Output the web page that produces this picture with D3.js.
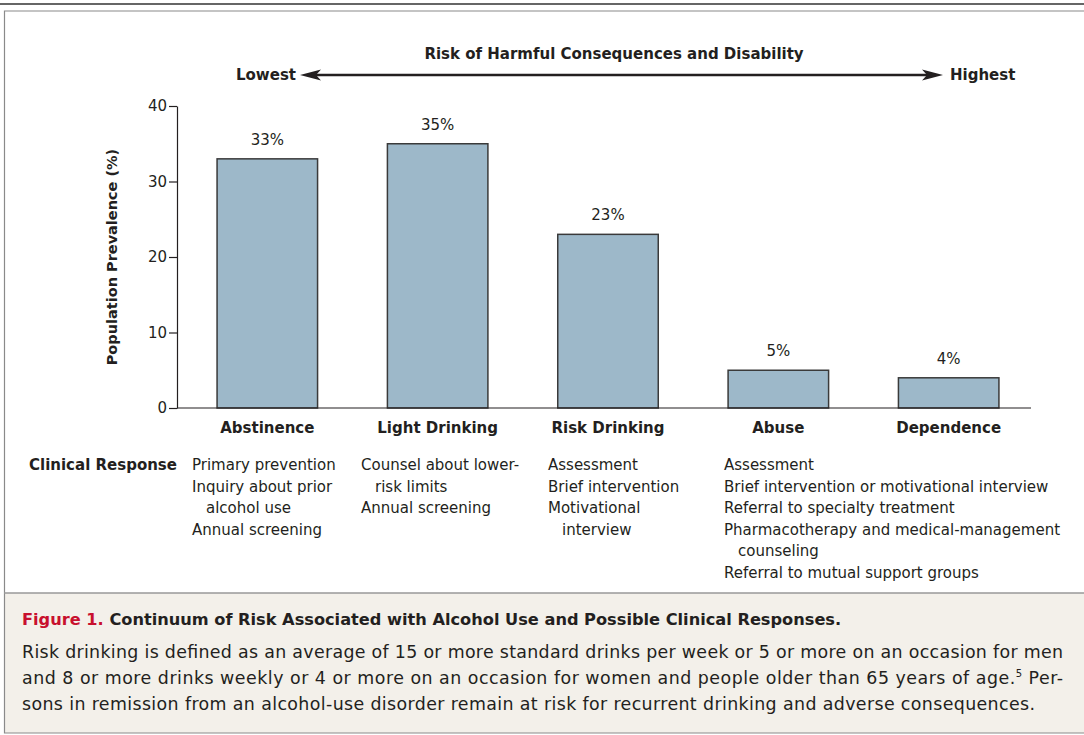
<!DOCTYPE html>
<html>
<head>
<meta charset="utf-8">
<script src="https://cdn.jsdelivr.net/npm/d3@7"></script>
<style>
  body { margin: 0; background: #fff; }
  text { font-family: "DejaVu Sans", "Open Sans", sans-serif; fill: #231f20; }
  .bold { font-weight: 700; }
</style>
</head>
<body>
<div id="chart"></div>
<script>
// ---- data ----
var categories = ["Abstinence", "Light Drinking", "Risk Drinking", "Abuse", "Dependence"];
var prevalence = [33, 35, 23, 5, 4];
var yTicks = [0, 10, 20, 30, 40];

// one list per column; each item = [first line, continuation lines...]
var responses = [
    [["Primary prevention"], ["Inquiry about prior", "alcohol use"], ["Annual screening"]],
    [["Counsel about lower-", "risk limits"], ["Annual screening"]],
    [["Assessment"], ["Brief intervention"], ["Motivational", "interview"]],
    [["Assessment"], ["Brief intervention or motivational interview"], ["Referral to specialty treatment"],
     ["Pharmacotherapy and medical-management", "counseling"], ["Referral to mutual support groups"]]
];

var captionLabel = "Figure 1.";
var captionTitle = "Continuum of Risk Associated with Alcohol Use and Possible Clinical Responses.";
var captionLines = [
    "Risk drinking is defined as an average of 15 or more standard drinks per week or 5 or more on an occasion for men",
    "and 8 or more drinks weekly or 4 or more on an occasion for women and people older than 65 years of age.|5| Per-",
    "sons in remission from an alcohol-use disorder remain at risk for recurrent drinking and adverse consequences."
];

// ---- layout ----
var svgWidth = 1084, svgHeight = 735;
var plot = {left: 177, right: 1031, top: 106, bottom: 408};
var responseX = [192, 361, 548, 724];

var svg = d3.select("#chart").append("svg")
    .attr("width", svgWidth)
    .attr("height", svgHeight);

// frame
svg.append("line")
    .attr("x1", 0).attr("x2", svgWidth)
    .attr("y1", 4).attr("y2", 4)
    .attr("stroke", "#666").attr("stroke-width", 2.2);

svg.append("rect")
    .attr("x", 4).attr("y", 593)
    .attr("width", svgWidth).attr("height", 140)
    .attr("fill", "#f3f0ea");

svg.append("path")
    .attr("d", `M${svgWidth + 5},11 H4.5 V733 H${svgWidth + 5}`)
    .attr("fill", "none").attr("stroke", "#8a8a8a").attr("stroke-width", 1.2);

svg.append("line")
    .attr("x1", 4).attr("x2", svgWidth)
    .attr("y1", 593).attr("y2", 593)
    .attr("stroke", "#999").attr("stroke-width", 1.5);

// scales
var x = d3.scaleBand()
    .domain(categories)
    .range([183, 1033])
    .paddingInner(0.41)
    .paddingOuter(0.2);

var y = d3.scaleLinear()
    .domain([0, 40])
    .range([plot.bottom, plot.top]);

// y axis
var yAxis = svg.append("g")
    .attr("transform", `translate(${plot.left},0)`)
    .call(d3.axisLeft(y).tickValues(yTicks).tickSize(8).tickPadding(2).tickSizeOuter(0));

yAxis.select(".domain").attr("stroke", "#231f20").attr("stroke-width", 1.2);
yAxis.selectAll(".tick line").attr("stroke", "#231f20").attr("stroke-width", 1.2);
yAxis.selectAll(".tick text")
    .attr("font-family", null)
    .style("font-size", "15px")
    .attr("fill", "#231f20");

svg.append("text")
    .attr("class", "bold")
    .attr("transform", `translate(117,${(plot.top + plot.bottom) / 2}) rotate(-90)`)
    .attr("text-anchor", "middle")
    .style("font-size", "14.5px")
    .text("Population Prevalence (%)");

// bars
var rows = categories.map((c, i) => ({cat: c, v: prevalence[i]}));

svg.append("g").selectAll("rect")
    .data(rows)
    .enter().append("rect")
    .attr("x", d => x(d.cat))
    .attr("y", d => y(d.v))
    .attr("width", x.bandwidth())
    .attr("height", d => y(0) - y(d.v))
    .attr("fill", "#9db8c9")
    .attr("stroke", "#3a3a3a")
    .attr("stroke-width", 1.5);

svg.append("g").selectAll("text")
    .data(rows)
    .enter().append("text")
    .attr("x", d => x(d.cat) + x.bandwidth() / 2)
    .attr("y", d => y(d.v) - 14)
    .attr("text-anchor", "middle")
    .style("font-size", "15px")
    .text(d => d.v + "%");

// x axis line
svg.append("line")
    .attr("x1", plot.left).attr("x2", plot.right)
    .attr("y1", y(0)).attr("y2", y(0))
    .attr("stroke", "#231f20").attr("stroke-width", 1.2);

svg.append("g").selectAll("text")
    .data(categories)
    .enter().append("text")
    .attr("class", "bold")
    .attr("x", d => x(d) + x.bandwidth() / 2)
    .attr("y", 433)
    .attr("text-anchor", "middle")
    .style("font-size", "15px")
    .text(d => d);

// risk arrow
svg.append("text")
    .attr("class", "bold")
    .attr("x", 614).attr("y", 59)
    .attr("text-anchor", "middle")
    .style("font-size", "15px")
    .text("Risk of Harmful Consequences and Disability");

svg.append("text")
    .attr("class", "bold")
    .attr("x", 296).attr("y", 80)
    .attr("text-anchor", "end")
    .style("font-size", "15px")
    .text("Lowest");

svg.append("text")
    .attr("class", "bold")
    .attr("x", 950).attr("y", 80)
    .style("font-size", "15px")
    .text("Highest");

svg.append("line")
    .attr("x1", 314).attr("x2", 929)
    .attr("y1", 75).attr("y2", 75)
    .attr("stroke", "#231f20").attr("stroke-width", 2.6);

svg.append("path")
    .attr("d", "M300,75 L321,69.5 L316,75 L321,80.5 Z M943,75 L922,69.5 L927,75 L922,80.5 Z")
    .attr("fill", "#231f20");

// clinical response
svg.append("text")
    .attr("class", "bold")
    .attr("x", 29).attr("y", 470)
    .style("font-size", "15px")
    .text("Clinical Response");

var lineH = 21.6;
responses.forEach((col, ci) => {
    var row = 0;
    col.forEach(item => {
        item.forEach((t, li) => {
            svg.append("text")
                .attr("x", responseX[ci] + (li > 0 ? 14 : 0))
                .attr("y", 470 + row * lineH)
                .style("font-size", "15px")
                .text(t);
            row++;
        });
    });
});

// caption
var cap = svg.append("text")
    .attr("x", 22).attr("y", 625)
    .style("font-size", "16.2px")
    .attr("class", "bold");
cap.append("tspan").style("fill", "#c8102e").text(captionLabel + " ");
cap.append("tspan").text(captionTitle);

var capWidths = [1041, 1041, 1013];
captionLines.forEach((line, i) => {
    var t = svg.append("text")
        .attr("x", 22)
        .attr("y", 658 + i * 26)
        .style("font-size", "17.4px")
        .attr("textLength", capWidths[i])
        .attr("lengthAdjust", "spacing");
    line.split("|").forEach((part, pi) => {
        var sp = t.append("tspan").text(part);
        if (pi === 1) sp.attr("dy", -7).style("font-size", "10px");
        if (pi === 2) sp.attr("dy", 7);
    });
});
</script>
</body>
</html>
